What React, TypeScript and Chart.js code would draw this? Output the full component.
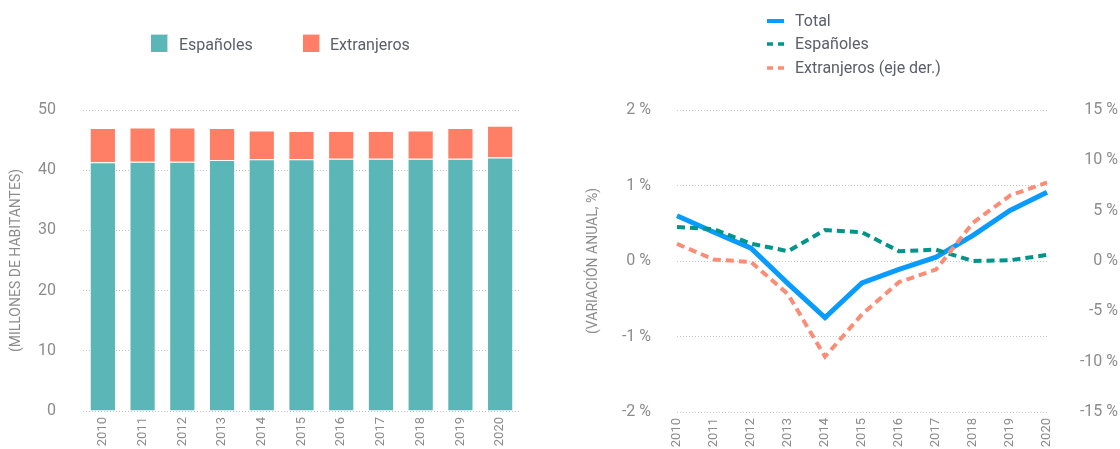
import React, { useEffect, useRef } from 'react';
import { Chart, registerables } from 'chart.js';

Chart.register(...registerables);

const FONT = 'Roboto, sans-serif';

const years = ['2010', '2011', '2012', '2013', '2014', '2015', '2016', '2017', '2018', '2019', '2020'];

// Millones de habitantes
const espanolesPop = [41.3, 41.4, 41.4, 41.7, 41.8, 41.8, 41.9, 41.9, 41.9, 41.9, 42.1];
const extranjerosPop = [5.7, 5.7, 5.7, 5.3, 4.8, 4.7, 4.6, 4.6, 4.7, 5.1, 5.3];

// Variación anual (%)
const totalVar = [0.6, 0.38, 0.17, -0.3, -0.75, -0.29, -0.11, 0.05, 0.34, 0.67, 0.91];
const espanolesVar = [0.45, 0.42, 0.23, 0.13, 0.41, 0.38, 0.13, 0.15, 0.0, 0.01, 0.08];
const extranjerosVar = [1.7, 0.15, -0.1, -3.3, -9.5, -5.3, -2.1, -0.85, 3.8, 6.5, 7.8];

const TEAL_BAR = '#5bb7b7';
const ORANGE_BAR = '#ff7f66';
const BLUE = '#0a9bff';
const TEAL_LINE = '#00958a';
const ORANGE_LINE = '#fb8d76';
const TICK_COLOR = '#8c8c8c';
const GRID_COLOR = '#c4c4c4';
const LEGEND_TEXT = '#595e69';

function BarChart() {
  const ref = useRef<HTMLCanvasElement | null>(null);
  useEffect(() => {
    if (!ref.current) return;
    const chart = new Chart(ref.current, {
      type: 'bar',
      data: {
        labels: years,
        datasets: [
          {
            label: 'Españoles',
            data: espanolesPop,
            backgroundColor: TEAL_BAR,
            borderColor: 'rgba(255,255,255,0.85)',
            borderWidth: 1,
            categoryPercentage: 1,
            barPercentage: 0.66,
          },
          {
            label: 'Extranjeros',
            data: extranjerosPop,
            backgroundColor: ORANGE_BAR,
            borderColor: 'rgba(255,255,255,0.85)',
            borderWidth: 1,
            categoryPercentage: 1,
            barPercentage: 0.66,
          },
        ],
      },
      options: {
        responsive: false,
        animation: false,
        layout: { padding: { top: 110, right: 40, left: 0, bottom: 0 } },
        plugins: { legend: { display: false }, tooltip: { enabled: false } },
        scales: {
          x: {
            stacked: true,
            grid: { display: false, drawTicks: false },
            border: { display: false },
            ticks: {
              color: TICK_COLOR,
              font: { family: FONT, size: 13 },
              minRotation: 90,
              maxRotation: 90,
              padding: 6,
            },
            afterFit: (s: any) => {
              s.height = 38;
            },
          },
          y: {
            stacked: true,
            min: 0,
            max: 50,
            grid: { color: GRID_COLOR, drawTicks: false, lineWidth: 1 },
            border: { display: false, dash: [1, 2] },
            ticks: {
              stepSize: 10,
              color: TICK_COLOR,
              font: { family: FONT, size: 16 },
              padding: 27,
            },
            title: {
              display: true,
              text: '(MILLONES DE HABITANTES)',
              color: TICK_COLOR,
              font: { family: FONT, size: 14 },
              padding: { top: 8, bottom: 0 },
            },
            afterFit: (s: any) => {
              s.width = 83;
            },
          },
        },
      },
    });
    return () => chart.destroy();
  }, []);
  return <canvas ref={ref} width={560} height={449} style={{ display: 'block' }} />;
}

function LineChart() {
  const ref = useRef<HTMLCanvasElement | null>(null);
  useEffect(() => {
    if (!ref.current) return;
    const chart = new Chart(ref.current, {
      type: 'line',
      data: {
        labels: years,
        datasets: [
          {
            label: 'Total',
            data: totalVar,
            borderColor: BLUE,
            backgroundColor: BLUE,
            borderWidth: 5,
            pointRadius: 0,
            tension: 0,
            yAxisID: 'y',
            order: 3,
          },
          {
            label: 'Españoles',
            data: espanolesVar,
            borderColor: TEAL_LINE,
            backgroundColor: TEAL_LINE,
            borderWidth: 4,
            borderDash: [8, 5],
            pointRadius: 0,
            tension: 0,
            yAxisID: 'y',
            order: 2,
          },
          {
            label: 'Extranjeros (eje der.)',
            data: extranjerosVar,
            borderColor: ORANGE_LINE,
            backgroundColor: ORANGE_LINE,
            borderWidth: 4,
            borderDash: [8, 5],
            pointRadius: 0,
            tension: 0,
            yAxisID: 'y1',
            order: 1,
          },
        ],
      },
      options: {
        responsive: false,
        animation: false,
        layout: { padding: { top: 110, right: 2, left: 0, bottom: 0 } },
        plugins: { legend: { display: false }, tooltip: { enabled: false } },
        scales: {
          x: {
            grid: { display: false, drawTicks: false },
            border: { display: false },
            ticks: {
              color: TICK_COLOR,
              font: { family: FONT, size: 13 },
              minRotation: 90,
              maxRotation: 90,
              padding: 6,
            },
            afterFit: (s: any) => {
              s.height = 37;
            },
          },
          y: {
            position: 'left',
            min: -2,
            max: 2,
            grid: { color: GRID_COLOR, drawTicks: false, lineWidth: 1 },
            border: { display: false, dash: [1, 2] },
            ticks: {
              stepSize: 1,
              color: TICK_COLOR,
              font: { family: FONT, size: 16 },
              padding: 26,
              callback: (v: any) => `${v} %`,
            },
            title: {
              display: true,
              text: '(VARIACIÓN ANUAL, %)',
              color: TICK_COLOR,
              font: { family: FONT, size: 14 },
              padding: { top: 25, bottom: 0 },
            },
            afterFit: (s: any) => {
              s.width = 117;
            },
          },
          y1: {
            position: 'right',
            min: -15,
            max: 15,
            grid: { display: false, drawTicks: false },
            border: { display: false },
            ticks: {
              stepSize: 5,
              color: TICK_COLOR,
              font: { family: FONT, size: 16 },
              padding: 26,
              crossAlign: 'far',
              callback: (v: any) => `${v} %`,
            },
            afterFit: (s: any) => {
              s.width = 71;
            },
          },
        },
      },
    });
    return () => chart.destroy();
  }, []);
  return <canvas ref={ref} width={560} height={449} style={{ display: 'block' }} />;
}

const textStyle: React.CSSProperties = {
  position: 'absolute',
  fontFamily: FONT,
  fontSize: 16,
  lineHeight: '20px',
  color: LEGEND_TEXT,
  whiteSpace: 'nowrap',
};

function BarLegend() {
  const items = [
    { label: 'Españoles', color: TEAL_BAR, box: 151, text: 179 },
    { label: 'Extranjeros', color: ORANGE_BAR, box: 303, text: 330 },
  ];
  return (
    <>
      {items.map((it) => (
        <React.Fragment key={it.label}>
          <div
            style={{
              position: 'absolute',
              left: it.box,
              top: 34,
              width: 17,
              height: 18,
              background: it.color,
              boxSizing: 'border-box',
              borderTop: '1px solid rgba(255,255,255,0.6)',
              borderRight: '1px solid rgba(255,255,255,0.6)',
            }}
          />
          <div style={{ ...textStyle, left: it.text, top: 35 }}>{it.label}</div>
        </React.Fragment>
      ))}
    </>
  );
}

function LineLegend() {
  const items = [
    { label: 'Total', color: BLUE, dash: '', width: 4, y: 20.5 },
    { label: 'Españoles', color: TEAL_LINE, dash: '6 5', width: 3.5, y: 44 },
    { label: 'Extranjeros (eje der.)', color: ORANGE_LINE, dash: '6 5', width: 3.5, y: 67.5 },
  ];
  return (
    <>
      {items.map((it) => (
        <React.Fragment key={it.label}>
          <svg
            width={20}
            height={10}
            style={{ position: 'absolute', left: 766, top: it.y - 5 }}
          >
            <line
              x1={1}
              y1={5}
              x2={18}
              y2={5}
              stroke={it.color}
              strokeWidth={it.width}
              strokeDasharray={it.dash || undefined}
            />
          </svg>
          <div style={{ ...textStyle, left: 795, top: it.y - 10 }}>{it.label}</div>
        </React.Fragment>
      ))}
    </>
  );
}

export default function App() {
  useEffect(() => {
    document.body.style.margin = '0';
    document.body.style.background = '#ffffff';
  }, []);
  return (
    <div style={{ position: 'relative', width: 1120, height: 449, overflow: 'hidden', background: '#fff' }}>
      <div style={{ position: 'absolute', left: 0, top: 0, width: 560, height: 449 }}>
        <BarChart />
      </div>
      <div style={{ position: 'absolute', left: 560, top: 0, width: 560, height: 449 }}>
        <LineChart />
      </div>
      <BarLegend />
      <LineLegend />
    </div>
  );
}
